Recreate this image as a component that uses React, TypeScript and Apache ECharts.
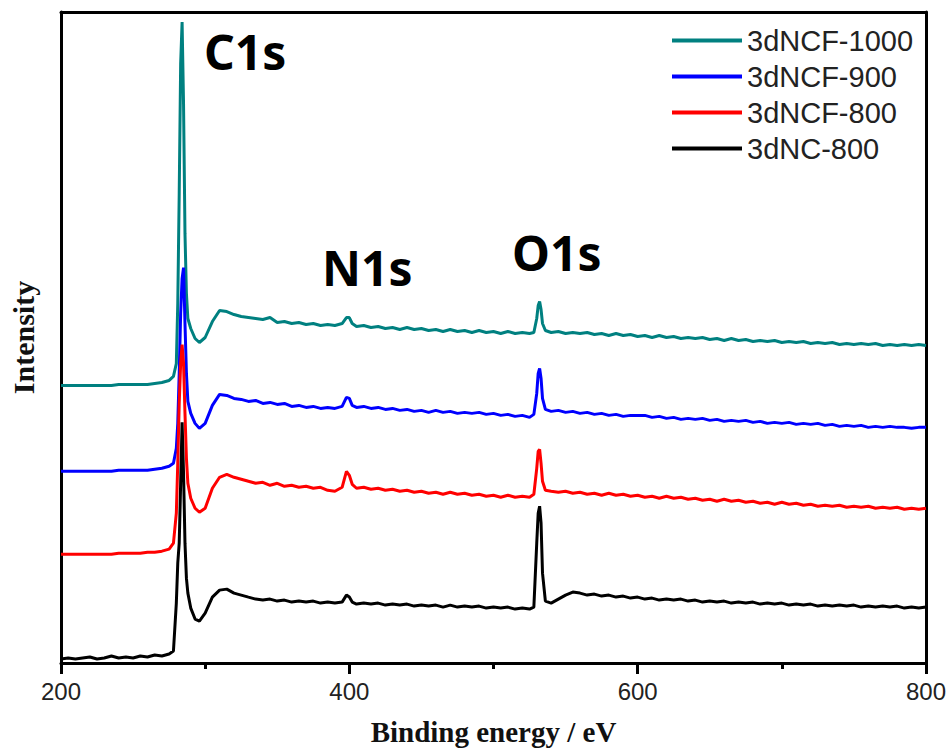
import React, { useEffect, useRef } from "react";
import * as echarts from "echarts";

const energy = [
  200, 205, 210, 215, 220, 225, 230, 235, 240, 245, 250, 255, 260, 265, 270, 275,
  278, 280, 281, 282, 283, 284, 285, 286, 287, 288,
  290, 293, 296,
  300, 305, 310, 315, 320, 325, 330, 335, 340, 345, 350, 355, 360, 365, 370, 375, 380, 385, 390, 395,
  398, 400, 402,
  405, 410, 415, 420, 425, 430, 435, 440, 445, 450, 455, 460, 465, 470, 475, 480, 485, 490, 495, 500, 505, 510, 515, 520, 525,
  528, 530, 531, 532, 533, 534, 536,
  540, 545, 550, 555, 560, 565, 570, 575, 580, 585, 590, 595, 600, 605, 610, 615, 620, 625, 630, 635, 640, 645, 650, 655, 660, 665, 670, 675, 680, 685, 690, 695, 700, 705, 710, 715, 720, 725, 730, 735, 740, 745, 750, 755, 760, 765, 770, 775, 780, 785, 790, 795, 800,
];

const ncf1000 = [
  278, 278, 278, 278, 278, 278, 278, 278, 279, 279, 279, 279, 279, 280, 281, 283,
  287, 300, 360, 470, 600, 642, 560, 430, 370, 345,
  335, 325, 321,
  326, 342, 353, 352, 349, 347, 346, 345, 344, 346, 341, 342, 340, 341, 339, 340, 338, 339, 338, 340,
  346, 346, 340,
  337, 338, 336, 337, 335, 336, 334, 336, 334, 335, 333, 334, 332, 334, 332, 333, 331, 333, 331, 332, 330, 332, 330, 331, 330,
  331, 345, 358, 362, 354, 340, 333,
  331, 332, 330, 331, 330, 331, 329, 330, 328, 330, 328, 329, 327, 328, 326, 328, 326, 327, 325, 326, 325, 326, 324, 325, 323, 325, 323, 324, 322, 323, 322, 323, 321, 322, 321, 322, 320, 321, 320, 321, 319, 320, 319, 320, 319, 320, 318, 319, 318, 319, 318, 319, 318,
];

const ncf900 = [
  192, 192, 192, 192, 192, 192, 192, 192, 193, 193, 193, 193, 193, 194, 195, 197,
  200, 215, 240, 290, 350, 385, 396, 340, 290, 262,
  250, 240, 235,
  240, 258, 269, 268, 265, 264, 262, 263, 260, 261, 259, 260, 257, 258, 256, 257, 255, 256, 255, 257,
  266, 265, 258,
  256, 257, 255, 256, 254, 255, 253, 254, 252, 253, 251, 253, 251, 252, 250, 251, 250, 251, 249, 250, 248, 249, 247, 248, 246,
  249, 270, 290, 295, 285, 265, 254,
  252, 253, 251, 252, 250, 251, 249, 250, 248, 249, 247, 248, 248, 248, 246, 247, 245, 246, 244, 245, 244, 245, 243, 244, 242, 243, 242, 243, 241, 242, 240, 241, 240, 241, 239, 240, 239, 240, 238, 239, 237, 238, 237, 238, 236, 237, 236, 237, 236, 236, 235, 236, 236,
];

const ncf800 = [
  109, 109, 109, 109, 109, 109, 109, 109, 110, 110, 110, 110, 111, 111, 112, 114,
  120, 150, 200, 260, 300, 319, 300, 250, 205, 180,
  165, 155, 151,
  155, 175, 186, 189, 186, 184, 182, 180, 181, 178, 180, 177, 178, 176, 177, 175, 176, 173, 172, 176,
  192, 188, 179,
  175, 176, 174, 175, 173, 174, 172, 173, 171, 172, 170, 171, 169, 171, 169, 170, 168, 169, 167, 168, 166, 168, 166, 167, 166,
  169, 195, 212, 214, 200, 182, 173,
  172, 171, 172, 170, 171, 169, 170, 168, 170, 168, 169, 167, 168, 166, 167, 165, 167, 165, 166, 164, 165, 163, 164, 162, 164, 162, 163, 161, 162, 160, 161, 159, 161, 159, 160, 158, 159, 157, 158, 157, 158, 156, 157, 156, 157, 155, 156, 155, 156, 154, 155, 154, 155,
];

const nc800 = [
  4, 5, 4, 5, 6, 4, 5, 7, 5, 6, 5, 7, 6, 8, 7, 9,
  12, 60, 100, 120, 180, 241, 190, 120, 85, 70,
  55, 44, 42,
  50, 66, 73, 74, 70, 68, 66, 64, 63, 64, 62, 63, 61, 62, 61, 62, 60, 61, 60, 61,
  68, 66, 61,
  59, 60, 59, 60, 58, 59, 58, 59, 57, 58, 57, 58, 56, 58, 56, 57, 56, 57, 55, 56, 55, 56, 54, 55, 54,
  56, 120, 150, 157, 140, 90, 62,
  60, 64, 68, 71, 70, 68, 69, 67, 68, 66, 67, 65, 66, 64, 65, 63, 64, 63, 64, 62, 63, 61, 62, 61, 62, 60, 61, 60, 61, 59, 60, 59, 60, 58, 59, 58, 59, 57, 58, 57, 58, 57, 58, 56, 57, 56, 57, 56, 57, 55, 56, 55, 56,
];

const seriesNames = ["3dNCF-1000", "3dNCF-900", "3dNCF-800", "3dNC-800"];
const seriesColors = ["#008080", "#0000ff", "#ff0000", "#000000"];
const seriesValues = [ncf1000, ncf900, ncf800, nc800];

const xTicks = { min: 200, max: 800, interval: 200 };
const yRange = { min: 0, max: 652 };
const peakLabels = ["C1s", "N1s", "O1s"];

export default function App() {
  const ref = useRef<HTMLDivElement | null>(null);

  useEffect(() => {
    if (!ref.current) return;
    const chart = echarts.init(ref.current, undefined, { renderer: "svg" });
    const series = seriesNames.map((name, k) => ({
      name,
      type: "line",
      xAxisIndex: 0,
      yAxisIndex: 0,
      data: energy.map((e, i) => [e, seriesValues[k][i]]),
      showSymbol: false,
      symbol: "none",
      color: seriesColors[k],
      lineStyle: { width: 3, color: seriesColors[k] },
    }));
    const frameLine = { show: true, onZero: false, lineStyle: { color: "#000", width: 3 } };
    chart.setOption({
      animation: false,
      backgroundColor: "#ffffff",
      grid: { left: 61, right: 23, top: 12, bottom: 87 },
      legend: {
        orient: "vertical",
        left: 672,
        top: 26,
        itemWidth: 70,
        itemHeight: 4,
        itemGap: 7,
        padding: 0,
        icon: "rect",
        data: seriesNames,
        textStyle: {
          fontSize: 29,
          lineHeight: 29,
          fontFamily: "'Liberation Sans', Arial, sans-serif",
          color: "#222",
        },
      },
      xAxis: [
        {
          type: "value",
          position: "bottom",
          z: 10,
          min: xTicks.min,
          max: xTicks.max,
          interval: xTicks.interval,
          name: "Binding energy / eV",
          nameLocation: "middle",
          nameGap: 54,
          nameTextStyle: {
            fontSize: 29,
            fontWeight: "bold",
            fontFamily: "'Liberation Serif', 'Times New Roman', serif",
            color: "#111",
          },
          axisLine: frameLine,
          axisTick: { show: true, inside: false, interval: 0, length: 11, lineStyle: { color: "#000", width: 3 } },
          minorTick: { show: true, splitNumber: 2, length: 6, lineStyle: { color: "#000", width: 3 } },
          axisLabel: {
            fontSize: 24,
            margin: 16,
            fontFamily: "'Liberation Sans', Arial, sans-serif",
            color: "#222",
          },
          splitLine: { show: false },
          minorSplitLine: { show: false },
        },
        {
          type: "value",
          position: "top",
          min: xTicks.min,
          max: xTicks.max,
          interval: xTicks.interval,
          axisLine: frameLine,
          axisTick: { show: false },
          axisLabel: { show: false },
          splitLine: { show: false },
        },
      ],
      yAxis: [
        {
          type: "value",
          position: "left",
          min: yRange.min,
          max: yRange.max,
          name: "Intensity",
          nameLocation: "middle",
          nameRotate: 90,
          nameGap: 23,
          nameTextStyle: {
            fontSize: 30,
            fontWeight: "bold",
            fontFamily: "'Liberation Serif', 'Times New Roman', serif",
            color: "#111",
          },
          axisLine: frameLine,
          axisTick: { show: false },
          axisLabel: { show: false },
          splitLine: { show: false },
        },
        {
          type: "value",
          position: "right",
          min: yRange.min,
          max: yRange.max,
          axisLine: frameLine,
          axisTick: { show: false },
          axisLabel: { show: false },
          splitLine: { show: false },
        },
      ],
      graphic: [
        { type: "text", left: 204, top: 27, style: { text: peakLabels[0], font: "bold 48px 'Noto Sans', sans-serif", fill: "#000" } },
        { type: "text", left: 322, top: 243, style: { text: peakLabels[1], font: "bold 48px 'Noto Sans', sans-serif", fill: "#000" } },
        { type: "text", left: 512, top: 228, style: { text: peakLabels[2], font: "bold 48px 'Noto Sans', sans-serif", fill: "#000" } },
      ],
      series,
    });
    return () => chart.dispose();
  }, []);

  return (
    <div
      ref={ref}
      style={{ position: "fixed", left: 0, top: 0, width: 949, height: 751, background: "#fff" }}
    />
  );
}
